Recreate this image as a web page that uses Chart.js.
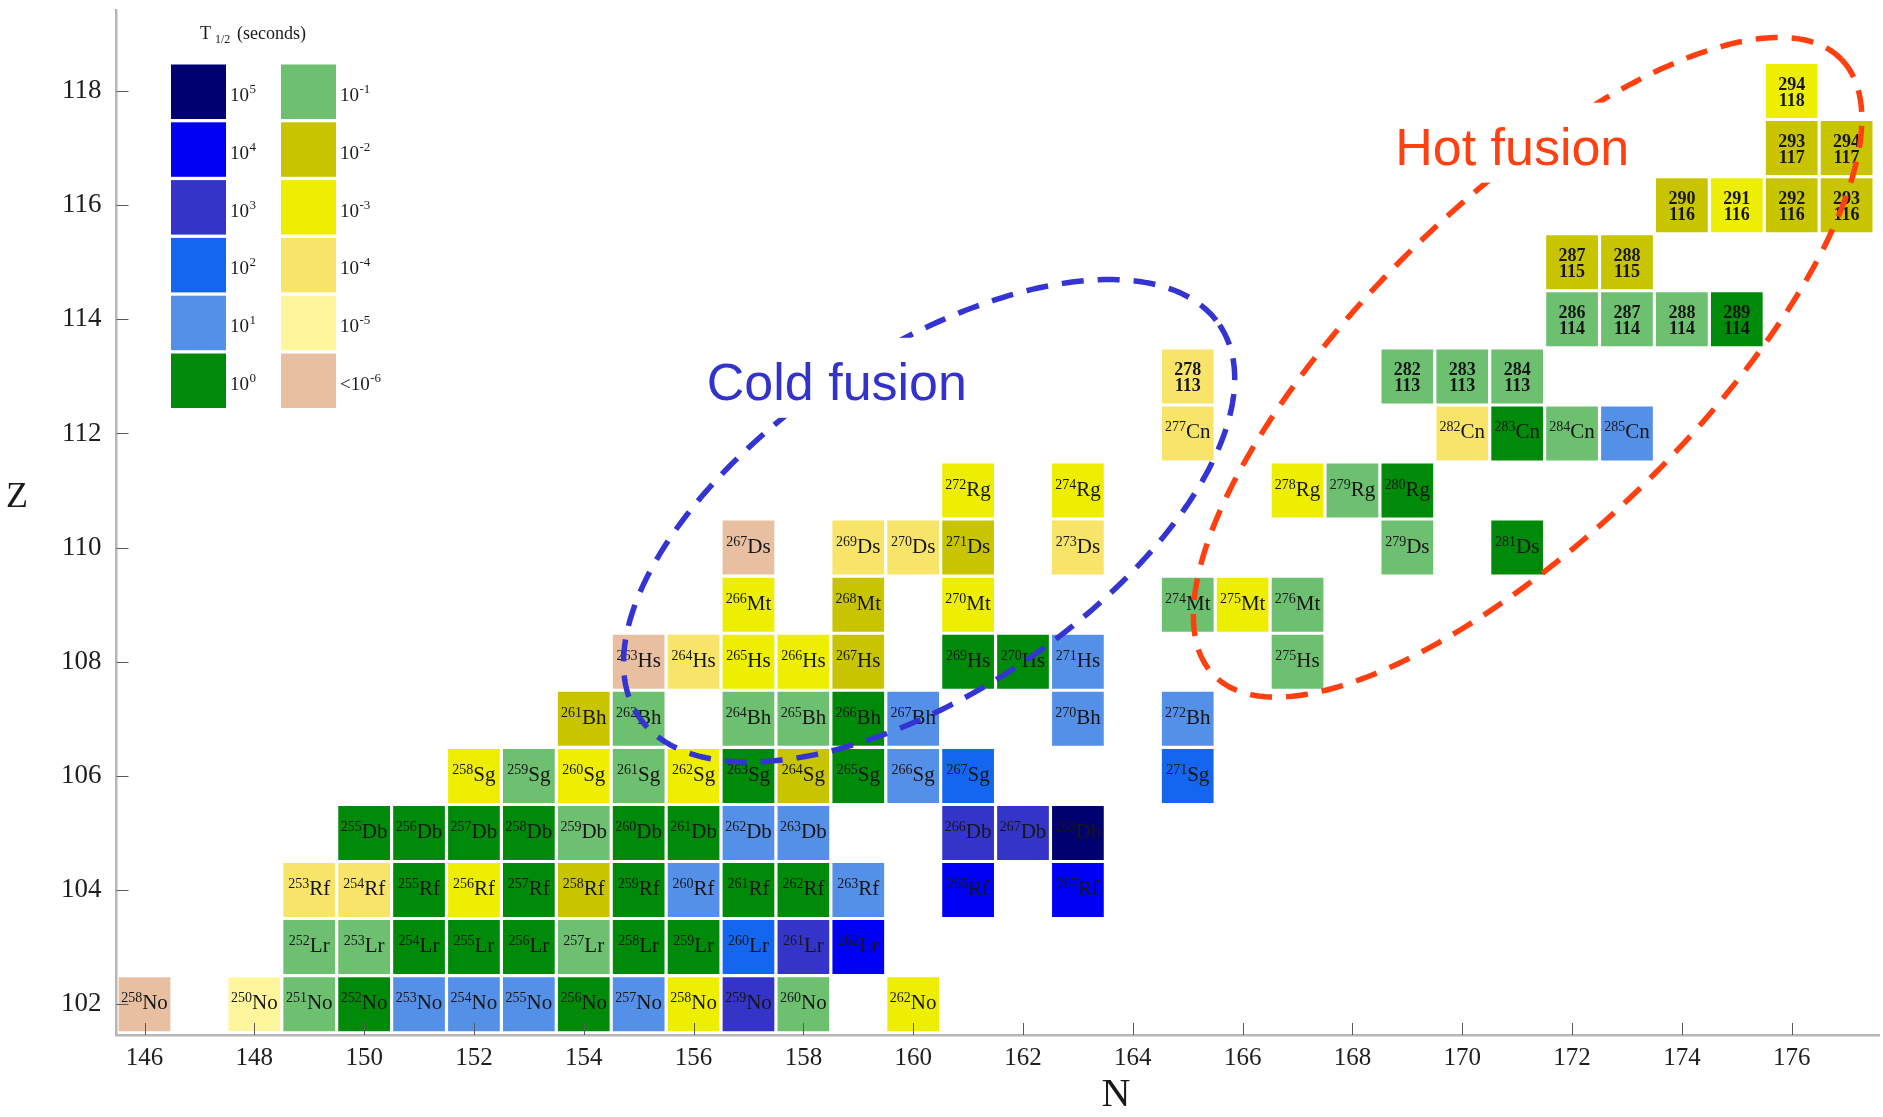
<!DOCTYPE html>
<html><head><meta charset="utf-8">
<script src="https://cdn.jsdelivr.net/npm/chart.js@4.4.1/dist/chart.umd.min.js"></script>
<style>html,body{margin:0;padding:0;background:#fff;overflow:hidden}#wrap{width:1883px;height:1117px}</style>
</head><body><div id="wrap"><canvas id="c" width="1883" height="1117"></canvas></div>
<script>
// ---------------- DATA ----------------
// proton number (Z) of each nuclide cell
const cellZ = [
  102,102,102,102,102,102,102,102,102,102,102,102,102,
  103,103,103,103,103,103,103,103,103,103,103,
  104,104,104,104,104,104,104,104,104,104,104,104,104,
  105,105,105,105,105,105,105,105,105,105,105,105,
  106,106,106,106,106,106,106,106,106,106,106,
  107,107,107,107,107,107,107,107,
  108,108,108,108,108,108,108,108,108,
  109,109,109,109,109,109,
  110,110,110,110,110,110,110,
  111,111,111,111,111,
  112,112,112,112,112,
  113,113,113,113,
  114,114,114,114,
  115,115,
  116,116,116,116,
  117,117,
  118
];
// neutron number (N) of each cell
const cellN = [
  146,148,149,150,151,152,153,154,155,156,157,158,160,
  149,150,151,152,153,154,155,156,157,158,159,
  149,150,151,152,153,154,155,156,157,158,159,161,163,
  150,151,152,153,154,155,156,157,158,161,162,163,
  152,153,154,155,156,157,158,159,160,161,165,
  154,155,157,158,159,160,163,165,
  155,156,157,158,159,161,162,163,167,
  157,159,161,165,166,167,
  157,159,160,161,163,169,171,
  161,163,167,168,169,
  165,170,171,172,173,
  165,169,170,171,
  172,173,174,175,
  172,173,
  174,175,176,177,
  176,177,
  176
];
// mass number printed in each cell
const cellMass = [
  258,250,251,252,253,254,255,256,257,258,259,260,262,
  252,253,254,255,256,257,258,259,260,261,262,
  253,254,255,256,257,258,259,260,261,262,263,265,267,
  255,256,257,258,259,260,261,262,263,266,267,268,
  258,259,260,261,262,263,264,265,266,267,271,
  261,262,264,265,266,267,270,272,
  263,264,265,266,267,269,270,271,275,
  266,268,270,274,275,276,
  267,269,270,271,273,279,281,
  272,274,278,279,280,
  277,282,283,284,285,
  278,282,283,284,
  286,287,288,289,
  287,288,
  290,291,292,293,
  293,294,
  294
];
// half-life class: log10(T1/2 in seconds), -6 means < 1e-6
const cellLogT = [
  -6,-5,-1,0,1,1,1,0,1,-3,3,-1,-3,
  -1,-1,0,0,0,-1,0,0,2,3,4,
  -4,-4,0,-3,0,-2,0,1,0,0,1,4,4,
  0,0,0,0,-1,0,0,1,1,3,3,5,
  -3,-1,-3,-1,-3,0,-2,0,1,2,2,
  -2,-1,-1,-1,0,1,1,1,
  -6,-4,-3,-3,-2,0,0,1,-1,
  -3,-2,-3,-1,-3,-1,
  -6,-4,-4,-2,-4,-1,0,
  -3,-3,-3,-1,0,
  -4,-4,0,-1,1,
  -4,-1,-1,-1,
  -1,-1,-1,0,
  -2,-2,
  -2,-3,-2,-2,
  -2,-2,
  -3
];
// element symbols by Z (Z >= 113 are printed as "A / Z")
const symbolZ = [102,103,104,105,106,107,108,109,110,111,112];
const symbolName = ['No','Lr','Rf','Db','Sg','Bh','Hs','Mt','Ds','Rg','Cn'];

// legend (half-life scale)
const legendLogT = [5,4,3,2,1,0,-1,-2,-3,-4,-5,-6];
const legendExp  = ['5','4','3','2','1','0','-1','-2','-3','-4','-5','-6'];
const legendPre  = ['','','','','','','','','','','','<'];
const legendColor = ['#000070','#0000f5','#3434c8','#1566ee','#5590e8','#008a0a',
                     '#6cc070','#c8c400','#eeee00','#f8e468','#fff59c','#e8bfa0'];

// axis ticks
const nTicks = [146,148,150,152,154,156,158,160,162,164,166,168,170,172,174,176];
const zTicks = [102,104,106,108,110,112,114,116,118];

// annotation regions (ellipses in N,Z units: centre, half-axis vectors)
const coldCentre = [160.29,110.47], coldAxisA = [5.29,3.43], coldAxisB = [1.73,-2.47];
const hotCentre  = [171.19,113.16], hotAxisA  = [5.71,5.40], hotAxisB  = [2.11,-2.06];
const coldLabel = {text:'Cold fusion', n:158.61, z:112.59};
const hotLabel  = {text:'Hot fusion',  n:170.91, z:116.71};

// ---------------- CHART ----------------
const SERIF = '"Liberation Serif", "Times New Roman", serif';
const SANS  = '"Liberation Sans", Arial, sans-serif';
const HALF_H = 0.473;
const colorFor = t => legendColor[legendLogT.indexOf(t)];

const cellData = cellN.map((n,i)=>({x:n, y:[cellZ[i]-HALF_H, cellZ[i]+HALF_H]}));

const cellLabels = {
  id:'cellLabels',
  afterDatasetsDraw(chart){
    const ctx = chart.ctx, xs = chart.scales.x, ys = chart.scales.y;
    ctx.save();
    ctx.fillStyle = '#161616';
    for (let i=0;i<cellN.length;i++){
      const cx = xs.getPixelForValue(cellN[i]), cy = ys.getPixelForValue(cellZ[i]);
      const k = symbolZ.indexOf(cellZ[i]);
      if (k >= 0){
        const sup = String(cellMass[i]), sym = symbolName[k];
        ctx.font = '14px ' + SERIF; const ws = ctx.measureText(sup).width;
        ctx.font = '21px ' + SERIF; const wm = ctx.measureText(sym).width;
        const x0 = cx - (ws+wm)/2;
        ctx.textAlign = 'left'; ctx.textBaseline = 'alphabetic';
        ctx.font = '14px ' + SERIF; ctx.fillText(sup, x0, cy-2);
        ctx.font = '21px ' + SERIF; ctx.fillText(sym, x0+ws, cy+5);
      } else {
        ctx.font = 'bold 18px ' + SERIF;
        ctx.textAlign = 'center'; ctx.textBaseline = 'middle';
        ctx.fillText(String(cellMass[i]), cx, cy-6);
        ctx.fillText(String(cellZ[i]), cx, cy+10);
      }
    }
    ctx.restore();
  }
};

const innerTicks = {
  id:'innerTicks',
  afterDatasetsDraw(chart){
    const ctx = chart.ctx, xs = chart.scales.x, ys = chart.scales.y, a = chart.chartArea;
    ctx.save(); ctx.strokeStyle = '#5a5a5a'; ctx.lineWidth = 1;
    ctx.beginPath();
    xs.ticks.forEach(t=>{ const p = Math.round(xs.getPixelForValue(t.value))+0.5; ctx.moveTo(p,a.bottom); ctx.lineTo(p,a.bottom-12); });
    ys.ticks.forEach(t=>{ const p = Math.round(ys.getPixelForValue(t.value))+0.5; ctx.moveTo(a.left,p); ctx.lineTo(a.left+12,p); });
    ctx.stroke(); ctx.restore();
  }
};

function drawRegion(chart, c, A, B, color){
  const ctx = chart.ctx, xs = chart.scales.x, ys = chart.scales.y;
  ctx.save(); ctx.strokeStyle = color; ctx.lineWidth = 5.5; ctx.setLineDash([22,14]);
  ctx.beginPath();
  for (let s=0;s<=360;s++){
    const t = s*Math.PI/180;
    const n = c[0] + A[0]*Math.cos(t) + B[0]*Math.sin(t);
    const z = c[1] + A[1]*Math.cos(t) + B[1]*Math.sin(t);
    const px = xs.getPixelForValue(n), py = ys.getPixelForValue(z);
    if (s===0) ctx.moveTo(px,py); else ctx.lineTo(px,py);
  }
  ctx.stroke(); ctx.restore();
}
function drawRegionLabel(chart, lab, color){
  const ctx = chart.ctx, xs = chart.scales.x, ys = chart.scales.y;
  const x = xs.getPixelForValue(lab.n), y = ys.getPixelForValue(lab.z);
  ctx.save(); ctx.font = '52px ' + SANS;
  const w = ctx.measureText(lab.text).width;
  ctx.fillStyle = '#ffffff'; ctx.fillRect(x-w/2-6, y-62, w+12, 80);
  ctx.fillStyle = color; ctx.textAlign = 'center'; ctx.textBaseline = 'alphabetic';
  ctx.fillText(lab.text, x, y);
  ctx.restore();
}
const regions = {
  id:'regions',
  afterDatasetsDraw(chart){
    drawRegion(chart, coldCentre, coldAxisA, coldAxisB, '#3434d2');
    drawRegion(chart, hotCentre, hotAxisA, hotAxisB, '#ff3f0f');
    drawRegionLabel(chart, coldLabel, '#3333cc');
    drawRegionLabel(chart, hotLabel, '#ff4010');
  }
};

const overlay = {
  id:'overlay',
  afterDraw(chart){
    const ctx = chart.ctx;
    ctx.save();
    ctx.fillStyle = '#1a1a1a';
    // axis titles
    ctx.textAlign = 'center'; ctx.textBaseline = 'middle';
    ctx.font = '36px ' + SERIF; ctx.fillText('Z', 17, 498);
    ctx.font = '40px ' + SERIF; ctx.fillText('N', 1116, 1095);
    // legend title
    ctx.textAlign = 'left'; ctx.textBaseline = 'alphabetic';
    ctx.font = '18px ' + SERIF; ctx.fillText('T', 200, 39);
    ctx.font = '12px ' + SERIF; ctx.fillText('1/2', 215, 43);
    ctx.font = '18px ' + SERIF; ctx.fillText('(seconds)', 237, 39);
    // legend swatches
    for (let i=0;i<legendLogT.length;i++){
      const col = i<6 ? 0 : 1, row = i%6;
      const x = col===0 ? 171 : 281, y = 64.5 + row*57.8;
      ctx.fillStyle = legendColor[i];
      ctx.fillRect(x, y, 55, 54.5);
      ctx.fillStyle = '#1a1a1a';
      const bx = x + 59, by = y + 27 + 9.5;
      ctx.font = '19px ' + SERIF;
      const base = legendPre[i] + '10';
      ctx.fillText(base, bx, by);
      const w = ctx.measureText(base).width;
      ctx.font = '13px ' + SERIF;
      ctx.fillText(legendExp[i], bx + w + 0.5, by - 8);
    }
    ctx.restore();
  }
};

new Chart(document.getElementById('c'), {
  type:'bar',
  data:{ datasets:[{
    data: cellData,
    backgroundColor: cellLogT.map(colorFor),
    borderWidth: 0,
    borderSkipped: false,
    grouped: false,
    categoryPercentage: 1,
    barPercentage: 0.942
  }]},
  options:{
    responsive:false, animation:false, events:[],
    devicePixelRatio:1,
    layout:{ padding:{ top:10, right:4, left:0, bottom:0 } },
    plugins:{ legend:{display:false}, tooltip:{enabled:false} },
    scales:{
      x:{
        type:'linear', min:145.49, max:177.59, offset:false,
        grid:{ display:false, drawTicks:false },
        border:{ display:true, color:'#b6b6b6', width:2.5 },
        afterBuildTicks(s){ s.ticks = nTicks.map(v=>({value:v})); },
        ticks:{ stepSize:2, includeBounds:false, autoSkip:false, maxRotation:0, padding:8,
                color:'#1e1e1e', font:{ family:SERIF, size:25 } },
        afterFit(s){ s.height = 82; s.paddingLeft = 0; s.paddingRight = 0; }
      },
      y:{
        type:'linear', min:101.46, max:119.42,
        grid:{ display:false, drawTicks:false },
        border:{ display:true, color:'#b6b6b6', width:2.5 },
        afterBuildTicks(s){ s.ticks = zTicks.map(v=>({value:v})); },
        ticks:{ stepSize:2, includeBounds:false, autoSkip:false, padding:15,
                color:'#1e1e1e', font:{ family:SERIF, size:27 } },
        afterFit(s){ s.width = 116.5; s.paddingTop = 0; s.paddingBottom = 0; }
      }
    }
  },
  plugins:[cellLabels, innerTicks, regions, overlay]
});
</script>
</body></html>
